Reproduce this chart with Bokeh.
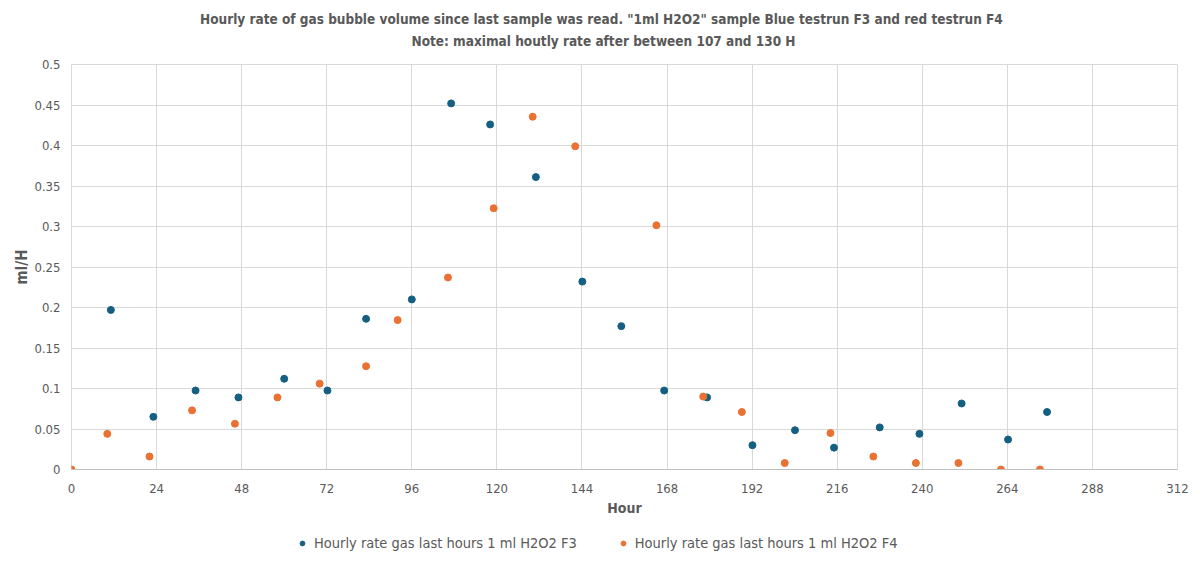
from bokeh.plotting import figure
from bokeh.layouts import column
from bokeh.models import FixedTicker, CustomJSTickFormatter, Legend, LegendItem, Range1d
from bokeh.core.properties import value
from bokeh.embed import file_html
from bokeh.resources import INLINE

hours_f3 = [11.1, 23.1, 35.0, 47.1, 60.0, 72.2, 83.1, 96.0, 107.1, 118.1, 131.0, 144.1,
            155.1, 167.2, 179.3, 192.1, 204.1, 215.1, 228.0, 239.2, 251.1, 264.2, 275.2]
rate_f3 = [0.197, 0.065, 0.0975, 0.089, 0.112, 0.0975, 0.186, 0.210, 0.452, 0.426, 0.361, 0.232,
           0.177, 0.0975, 0.089, 0.030, 0.0485, 0.027, 0.052, 0.044, 0.0815, 0.037, 0.071]
hours_f4 = [0, 10.1, 22.0, 34.0, 46.1, 58.1, 70.0, 83.1, 92.0, 106.2, 119.1, 130.1,
            142.1, 165.0, 178.2, 189.1, 201.2, 214.1, 226.2, 238.2, 250.2, 262.2, 273.2]
rate_f4 = [0, 0.044, 0.016, 0.073, 0.0565, 0.089, 0.106, 0.1275, 0.1845, 0.237, 0.3225, 0.4355,
           0.399, 0.3015, 0.090, 0.071, 0.008, 0.045, 0.016, 0.008, 0.008, 0, 0]
x_ticks = [0, 24, 48, 72, 96, 120, 144, 168, 192, 216, 240, 264, 288, 312]
y_ticks = [0, 0.05, 0.1, 0.15, 0.2, 0.25, 0.3, 0.35, 0.4, 0.45, 0.5]
title_1 = 'Hourly rate of gas bubble volume since last sample was read. "1ml H2O2" sample Blue testrun F3  and red testrun F4'
title_2 = 'Note: maximal houtly rate after between 107 and 130 H'
label_f3 = "Hourly rate gas last hours 1 ml H2O2 F3"
label_f4 = "Hourly rate gas last hours 1 ml H2O2 F4"

FONT = "DejaVu Sans Condensed, Roboto, sans-serif"
GRAY = "#595959"
GRID = "#d9d9d9"
BLUE = "#156082"
ORANGE = "#E97132"

# ---- title strip (its frame is aligned with the chart frame: page pixels 71..1177) ----
hdr = figure(width=1200, height=54, x_range=Range1d(71, 1177), y_range=Range1d(54, 0),
             output_backend="svg", toolbar_location=None,
             x_axis_type=None, y_axis_type=None, min_border=0)
hdr.title.visible = False
hdr.grid.visible = False
hdr.outline_line_color = None
hdr.text(x=[603, 603], y=[18, 40], text=[title_1, title_2],
         text_align="center", text_baseline="middle",
         text_font=value(FONT), text_font_size="13.5px", text_font_style="bold",
         text_color=GRAY)

# ---- main chart ----
p = figure(frame_width=1106, frame_height=405, x_range=(0, 312), y_range=(0, 0.5),
           output_backend="svg", toolbar_location=None,
           min_border_left=71, min_border_right=23, min_border_top=10, min_border_bottom=52)
p.title.visible = False

p.scatter(hours_f3, rate_f3, size=7, color=BLUE)
p.scatter(hours_f4, rate_f4, size=7, color=ORANGE)

p.xaxis.ticker = FixedTicker(ticks=x_ticks)
p.yaxis.ticker = FixedTicker(ticks=y_ticks)
p.yaxis.formatter = CustomJSTickFormatter(code="var s = tick.toFixed(2); s = s.replace(/0+$/, ''); return s.replace(/\\.$/, '');")
p.xgrid.ticker = FixedTicker(ticks=x_ticks)
p.ygrid.ticker = FixedTicker(ticks=y_ticks)
p.grid.grid_line_color = GRID
p.outline_line_color = GRID

for ax in (p.xaxis, p.yaxis):
    ax.major_tick_line_color = None
    ax.minor_tick_line_color = None
    ax.major_label_text_font = FONT
    ax.major_label_text_font_size = "13px"
    ax.major_label_text_color = GRAY
    ax.axis_label_text_font = FONT
    ax.axis_label_text_font_size = "14px"
    ax.axis_label_text_font_style = "bold"
    ax.axis_label_text_color = GRAY
p.yaxis.axis_line_color = None
p.xaxis.axis_line_color = "#bfbfbf"
p.xaxis.major_label_standoff = 8
p.xaxis.axis_label_standoff = 4
p.yaxis.axis_label_standoff = 0
p.yaxis.axis_label_text_font_size = "15px"
p.xaxis.axis_label = "Hour"
p.yaxis.axis_label = "ml/H"

# ---- legend strip below the chart (its own ranges keep the points out of view) ----
lg = figure(width=1200, height=43, x_range=(-20, -10), y_range=(-20, -10),
            output_backend="svg", toolbar_location=None,
            x_axis_type=None, y_axis_type=None, min_border=0)
lg.title.visible = False
lg.grid.visible = False
lg.outline_line_color = None
l3 = lg.scatter(hours_f3, rate_f3, size=7, color=BLUE)
l4 = lg.scatter(hours_f4, rate_f4, size=7, color=ORANGE)
legend = Legend(items=[LegendItem(label=label_f3, renderers=[l3]),
                       LegendItem(label=label_f4, renderers=[l4])],
                orientation="horizontal", location=(221, 7), border_line_alpha=0,
                background_fill_alpha=0, margin=0, padding=4,
                label_text_font=FONT, label_text_font_size="14.5px", label_text_color=GRAY,
                glyph_width=12, label_standoff=6, spacing=40)
lg.add_layout(legend, "center")

layout = column(hdr, p, lg, spacing=0)
open("out.html", "w").write(file_html(layout, INLINE))
